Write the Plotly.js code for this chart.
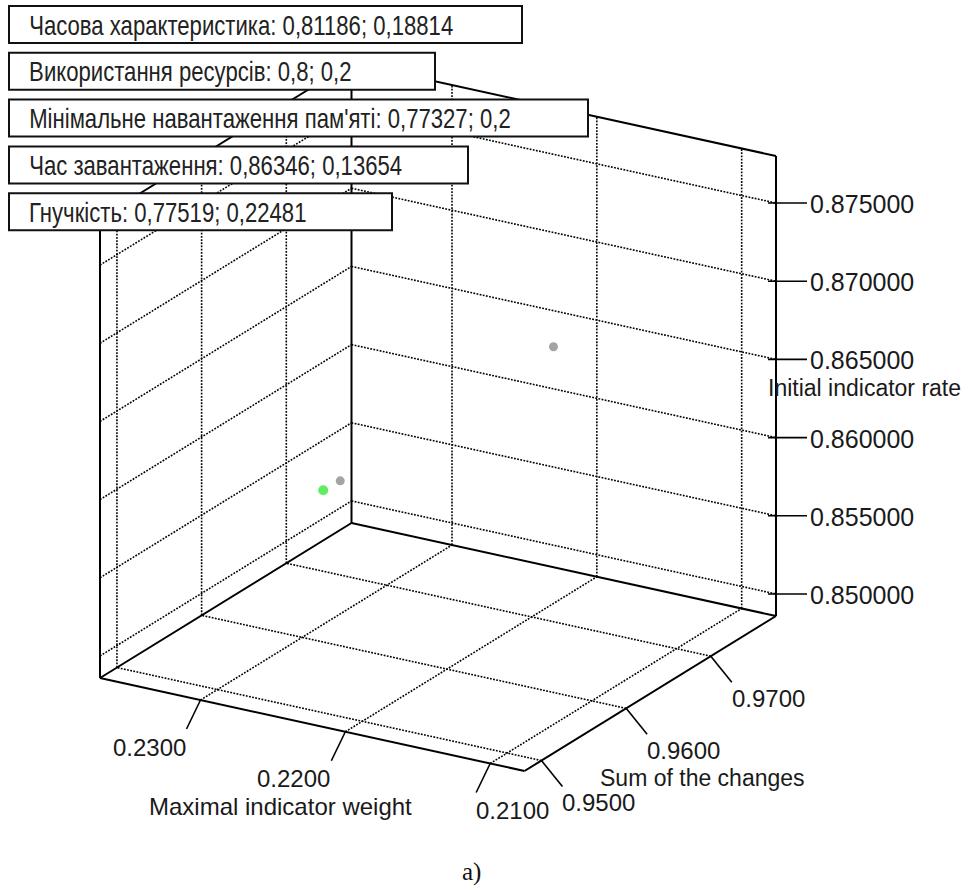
<!DOCTYPE html>
<html>
<head>
<meta charset="utf-8">
<script src="https://cdn.plot.ly/plotly-3.0.1.min.js"></script>
<style>
  html, body { margin: 0; padding: 0; background: #fff; }
  #chart { width: 968px; height: 890px; }
</style>
</head>
<body>
<div id="chart"></div>
<script>
// ---- Axis ticks and ranges ----
const sumTicks = [0.95, 0.96, 0.97];
const weightTicks = [0.21, 0.22, 0.23];
const rateTicks = [0.85, 0.855, 0.86, 0.865, 0.87, 0.875];
const sumRange = [0.9480, 0.9777];
const weightRange = [0.20763, 0.23694];
const rateRange = [0.84859, 0.87801];

// ---- Plotted points ----
const pointSum = [0.9760, 0.9645, 0.9642];
const pointWeight = [0.2220, 0.2300, 0.2310];
const pointRate = [0.86346, 0.8571, 0.8564];

// ---- Criteria labels ----
const labelTexts = [
  'Часова характеристика: 0,81186; 0,18814',
  'Використання ресурсів: 0,8; 0,2',
  'Мінімальне навантаження пам\'яті: 0,77327; 0,2',
  'Час завантаження: 0,86346; 0,13654',
  'Гнучкість: 0,77519; 0,22481'
];

// ---- Styling ----
const W = 968, H = 890;
const pointColors = ['#7d7d7d', '#7d7d7d', '#1ee61e'];
const pointSizes = [9, 9, 10];
const labelBoxRight = [522, 435, 588, 468, 392];
const labelBoxTop0 = 6, labelBoxStep = 46.8, labelBoxHeight = 37, labelBoxLeft = 9;
const weightLabelAnchor = ['left', 'right', 'right'];
const sansFont = 'Liberation Sans, Arial, sans-serif';
const textColor = '#1a1a1a';

// Axonometric view of the cube: screen origin of (sum min, weight max, rate min)
// and the on-screen span of each axis over its full range.
const view = {
  origin: [100, 678],
  sumSpan: [251.5, -155],
  weightSpan: [424.5, 93],   // runs from weight max toward weight min
  rateSpan: [0, -460]
};

function project(s, w, z) {
  const fs = (s - sumRange[0]) / (sumRange[1] - sumRange[0]);
  const fw = (weightRange[1] - w) / (weightRange[1] - weightRange[0]);
  const fz = (z - rateRange[0]) / (rateRange[1] - rateRange[0]);
  return [
    view.origin[0] + fs * view.sumSpan[0] + fw * view.weightSpan[0] + fz * view.rateSpan[0],
    view.origin[1] + fs * view.sumSpan[1] + fw * view.weightSpan[1] + fz * view.rateSpan[1]
  ];
}

function segmentsTrace(segs, line) {
  const x = [], y = [];
  segs.forEach(([p, q]) => { x.push(p[0], q[0], null); y.push(p[1], q[1], null); });
  return { type: 'scatter', mode: 'lines', x, y, line, hoverinfo: 'skip', showlegend: false, cliponaxis: false };
}

const [s0, s1] = sumRange, [w0, w1] = weightRange, [z0, z1] = rateRange;

// Dotted grid on the floor and the two back walls
const grid = [];
sumTicks.forEach(s => {
  grid.push([project(s, w0, z0), project(s, w1, z0)]);   // floor
  grid.push([project(s, w1, z0), project(s, w1, z1)]);   // left wall
});
weightTicks.forEach(w => {
  grid.push([project(s0, w, z0), project(s1, w, z0)]);   // floor
  grid.push([project(s1, w, z0), project(s1, w, z1)]);   // right wall
});
rateTicks.forEach(z => {
  grid.push([project(s0, w1, z), project(s1, w1, z)]);   // left wall
  grid.push([project(s1, w1, z), project(s1, w0, z)]);   // right wall
});

// Solid box frame
const frame = [
  [project(s0, w1, z0), project(s0, w1, z1)],
  [project(s1, w1, z0), project(s1, w1, z1)],
  [project(s1, w0, z0), project(s1, w0, z1)],
  [project(s0, w1, z0), project(s1, w1, z0)],
  [project(s1, w1, z0), project(s1, w0, z0)],
  [project(s0, w1, z1), project(s1, w1, z1)],
  [project(s1, w1, z1), project(s1, w0, z1)],
  [project(s0, w1, z0), project(s0, w0, z0)],
  [project(s0, w0, z0), project(s1, w0, z0)]
];

// Tick marks and their labels
const tickSegs = [];
const annotations = [];
const sumTickDir = [21, 26], weightTickDir = [-14, 29];

function textAnn(x, y, text, xanchor, yanchor, size) {
  return {
    xref: 'x', yref: 'y', x, y, text, showarrow: false,
    xanchor, yanchor, borderpad: 0,
    font: { family: sansFont, size, color: textColor }
  };
}

rateTicks.forEach(z => {
  const p = project(s1, w0, z);
  tickSegs.push([[p[0] - 8, p[1]], [p[0] + 31, p[1]]]);
  annotations.push(textAnn(p[0] + 33, p[1] + 1, z.toFixed(6), 'left', 'middle', 25));
});
sumTicks.forEach(s => {
  const p = project(s, w0, z0);
  const e = [p[0] + sumTickDir[0], p[1] + sumTickDir[1]];
  tickSegs.push([p, e]);
  annotations.push(textAnn(e[0] - 1, e[1] + 16, s.toFixed(4), 'left', 'middle', 24));
});
weightTicks.forEach((w, i) => {
  const p = project(s0, w, z0);
  const e = [p[0] + weightTickDir[0], p[1] + weightTickDir[1]];
  tickSegs.push([p, e]);
  const dx = weightLabelAnchor[i] === 'left' ? -1 : 0;
  annotations.push(textAnn(e[0] + dx, e[1] + 18, w.toFixed(4), weightLabelAnchor[i], 'middle', 24));
});

// Axis titles, placed off the middle of each axis
{
  const pw = project(s0, (w0 + w1) / 2, z0);
  annotations.push(textAnn(pw[0] - 32, pw[1] + 82, 'Maximal indicator weight', 'center', 'middle', 24));
  const ps = project((s0 + s1) / 2, w0, z0);
  annotations.push(textAnn(ps[0] + 52, ps[1] + 84, 'Sum of the changes', 'center', 'middle', 23));
  const pz = project(s1, w0, (z0 + z1) / 2);
  annotations.push(textAnn(pz[0] + 88, pz[1] + 2, 'Initial indicator rate', 'center', 'middle', 23));
}

// Criteria label boxes
const shapes = [];
const labelStart = annotations.length;
labelTexts.forEach((t, i) => {
  const top = labelBoxTop0 + i * labelBoxStep;
  shapes.push({
    type: 'rect', xref: 'x', yref: 'y', layer: 'above',
    x0: labelBoxLeft, x1: labelBoxRight[i], y0: top, y1: top + labelBoxHeight,
    fillcolor: '#fff', line: { color: '#111', width: 2 }
  });
  annotations.push({
    xref: 'x', yref: 'y', x: labelBoxLeft + 19, y: top + labelBoxHeight / 2 + 1,
    text: t, showarrow: false, xanchor: 'left', yanchor: 'middle', borderpad: 0,
    font: { family: sansFont, size: 27, color: '#222' }
  });
});

annotations.push({
  xref: 'x', yref: 'y', x: 471, y: 872, text: 'a)', showarrow: false,
  xanchor: 'center', yanchor: 'middle',
  font: { family: 'Liberation Serif, Times New Roman, serif', size: 25, color: '#111' }
});

const pts = pointSum.map((s, i) => project(s, pointWeight[i], pointRate[i]));

const traces = [
  segmentsTrace(grid, { color: '#000', width: 1.6, dash: '1.8px,1.4px' }),
  segmentsTrace(frame, { color: '#000', width: 2 }),
  segmentsTrace(tickSegs, { color: '#000', width: 1.6 }),
  {
    type: 'scatter', mode: 'markers',
    x: pts.map(p => p[0]), y: pts.map(p => p[1]),
    marker: { size: pointSizes, color: pointColors, line: { width: 0 } },
    hoverinfo: 'skip', showlegend: false, cliponaxis: false
  }
];

const hiddenAxis = { visible: false, showgrid: false, zeroline: false, fixedrange: true };
const layout = {
  width: W, height: H,
  margin: { l: 0, r: 0, t: 0, b: 0 },
  paper_bgcolor: '#fff', plot_bgcolor: '#fff',
  showlegend: false,
  xaxis: Object.assign({ range: [0, W] }, hiddenAxis),
  yaxis: Object.assign({ range: [H, 0] }, hiddenAxis),
  shapes, annotations
};

Plotly.newPlot('chart', traces, layout, { displayModeBar: false, staticPlot: true }).then(gd => {
  // Narrow the label-box lettering horizontally (condensed face)
  gd.querySelectorAll('.annotation').forEach(g => {
    const idx = +g.getAttribute('data-index');
    if (idx < labelStart || idx >= labelStart + labelTexts.length) return;
    const txt = g.querySelector('text.annotation-text');
    if (!txt) return;
    const bb = txt.getBBox();
    txt.setAttribute('transform', `translate(${bb.x},0) scale(0.82,1) translate(${-bb.x},0)`);
  });
});
</script>
</body>
</html>
